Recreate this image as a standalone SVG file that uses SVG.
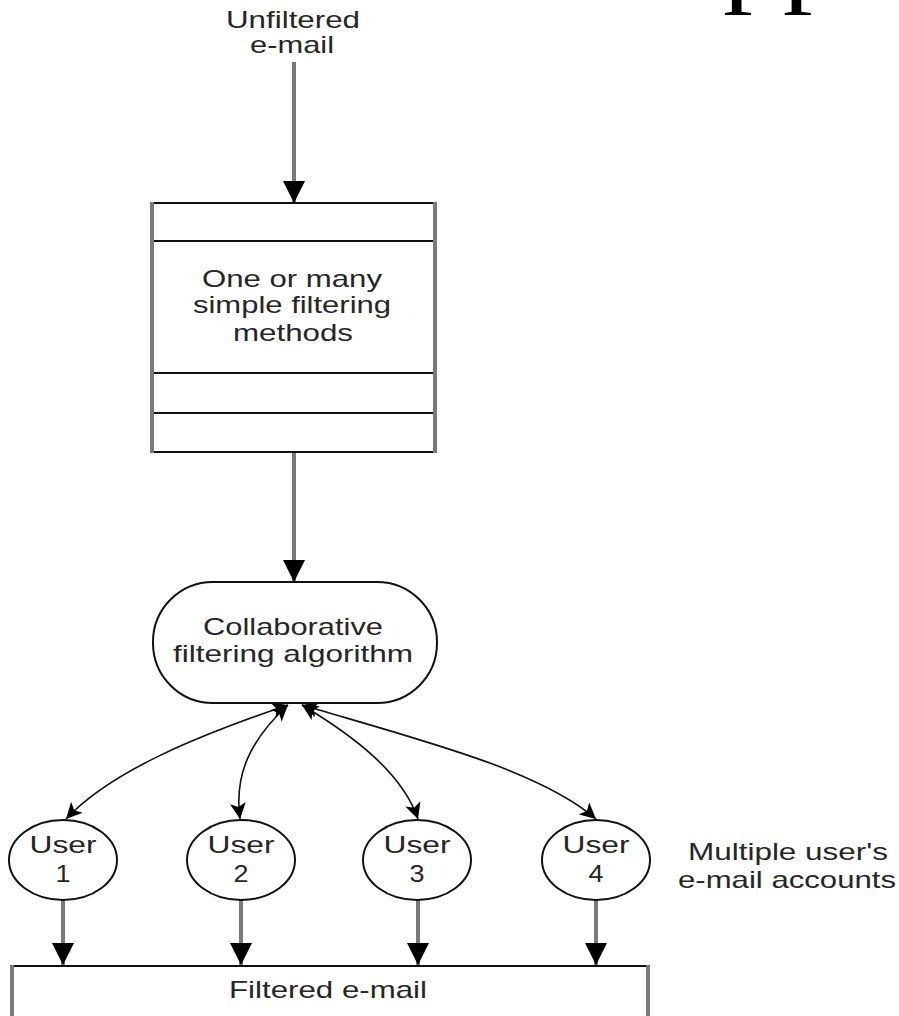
<svg xmlns="http://www.w3.org/2000/svg" width="899" height="1016" viewBox="0 0 899 1016">
<style>
.t{font-family:"Liberation Sans",Arial,sans-serif;font-size:24px;fill:#262626;text-anchor:middle}
.thick{stroke:#7a7a7a;stroke-width:4;fill:none}
.thin{stroke:#111;stroke-width:2;fill:none}
.curve{stroke:#111;stroke-width:1.6;fill:none;marker-start:url(#sa);marker-end:url(#sa)}
.node{fill:#fff;stroke:#111;stroke-width:2}
</style>
<defs>
<marker id="ba" markerUnits="userSpaceOnUse" markerWidth="22" markerHeight="22" viewBox="0 0 22 22" refX="22" refY="11" orient="auto"><path d="M0,0 L22,11 L0,22 z" fill="#000"/></marker>
<marker id="sa" markerUnits="userSpaceOnUse" markerWidth="16" markerHeight="16" viewBox="0 0 16 16" refX="16" refY="8" orient="auto-start-reverse"><path d="M0,0 L16,8 L0,16 L4,8 z" fill="#000"/></marker>
</defs>
<rect width="899" height="1016" fill="#fff"/>
<text x="0" y="-4" font-family="'Liberation Serif',serif" font-size="92" fill="#000" transform="translate(723,0) scale(1.3,1)">pp</text>

<g id="connectors">
<line class="thick" x1="294" y1="62" x2="294" y2="203" marker-end="url(#ba)"/>
<line class="thick" x1="294" y1="452" x2="294" y2="582" marker-end="url(#ba)"/>
<path class="curve" d="M288 705 C200 735,112 770,66 819"/>
<path class="curve" d="M288 705 C250 740,234 775,240 819"/>
<path class="curve" d="M302 705 C352 735,402 772,418 819"/>
<path class="curve" d="M302 705 C420 740,540 770,596 819"/>
<line class="thick" x1="63" y1="900" x2="63" y2="965" marker-end="url(#ba)"/>
<line class="thick" x1="241" y1="900" x2="241" y2="965" marker-end="url(#ba)"/>
<line class="thick" x1="418" y1="900" x2="418" y2="965" marker-end="url(#ba)"/>
<line class="thick" x1="596" y1="900" x2="596" y2="965" marker-end="url(#ba)"/>
</g>

<g id="source">
<text class="t" x="293" y="28" textLength="134" lengthAdjust="spacingAndGlyphs">Unfiltered</text>
<text class="t" x="292" y="53" textLength="84" lengthAdjust="spacingAndGlyphs">e-mail</text>
</g>

<g id="filters">
<rect x="152" y="203" width="283" height="249" fill="#fff" stroke="none"/>
<line class="thin" x1="152" y1="203" x2="435" y2="203"/>
<line class="thin" x1="152" y1="241" x2="435" y2="241"/>
<line class="thin" x1="152" y1="373" x2="435" y2="373"/>
<line class="thin" x1="152" y1="413" x2="435" y2="413"/>
<line class="thin" x1="152" y1="452" x2="435" y2="452"/>
<line class="thick" x1="152" y1="202" x2="152" y2="453"/>
<line class="thick" x1="435" y1="202" x2="435" y2="453"/>
<text class="t" x="292" y="287" textLength="180" lengthAdjust="spacingAndGlyphs">One or many</text>
<text class="t" x="292" y="313" textLength="198" lengthAdjust="spacingAndGlyphs">simple filtering</text>
<text class="t" x="293" y="341" textLength="120" lengthAdjust="spacingAndGlyphs">methods</text>
</g>

<g id="algorithm">
<rect class="node" x="153" y="582" width="284" height="121" rx="60" ry="60"/>
<text class="t" x="293" y="635" textLength="180" lengthAdjust="spacingAndGlyphs">Collaborative</text>
<text class="t" x="293" y="662" textLength="240" lengthAdjust="spacingAndGlyphs">filtering algorithm</text>
</g>

<g id="user1">
<ellipse class="node" cx="63" cy="860" rx="54" ry="40"/>
<text class="t" x="63" y="853" textLength="67" lengthAdjust="spacingAndGlyphs">User</text>
<text class="t" x="63" y="882" textLength="15" lengthAdjust="spacingAndGlyphs">1</text>
</g>
<g id="user2">
<ellipse class="node" cx="241" cy="860" rx="54" ry="40"/>
<text class="t" x="241" y="853" textLength="67" lengthAdjust="spacingAndGlyphs">User</text>
<text class="t" x="241" y="882" textLength="15" lengthAdjust="spacingAndGlyphs">2</text>
</g>
<g id="user3">
<ellipse class="node" cx="417" cy="860" rx="54" ry="40"/>
<text class="t" x="417" y="853" textLength="67" lengthAdjust="spacingAndGlyphs">User</text>
<text class="t" x="417" y="882" textLength="15" lengthAdjust="spacingAndGlyphs">3</text>
</g>
<g id="user4">
<ellipse class="node" cx="596" cy="860" rx="54" ry="40"/>
<text class="t" x="596" y="853" textLength="67" lengthAdjust="spacingAndGlyphs">User</text>
<text class="t" x="596" y="882" textLength="15" lengthAdjust="spacingAndGlyphs">4</text>
</g>

<g id="accounts-label">
<text class="t" x="788" y="860" textLength="200" lengthAdjust="spacingAndGlyphs">Multiple user's</text>
<text class="t" x="787" y="888" textLength="218" lengthAdjust="spacingAndGlyphs">e-mail accounts</text>
</g>

<g id="filtered">
<line class="thin" x1="12" y1="966" x2="649" y2="966"/>
<line class="thick" x1="12" y1="965" x2="12" y2="1016"/>
<line class="thick" x1="648" y1="965" x2="648" y2="1016"/>
<text class="t" x="328" y="998" textLength="198" lengthAdjust="spacingAndGlyphs">Filtered e-mail</text>
</g>
</svg>
